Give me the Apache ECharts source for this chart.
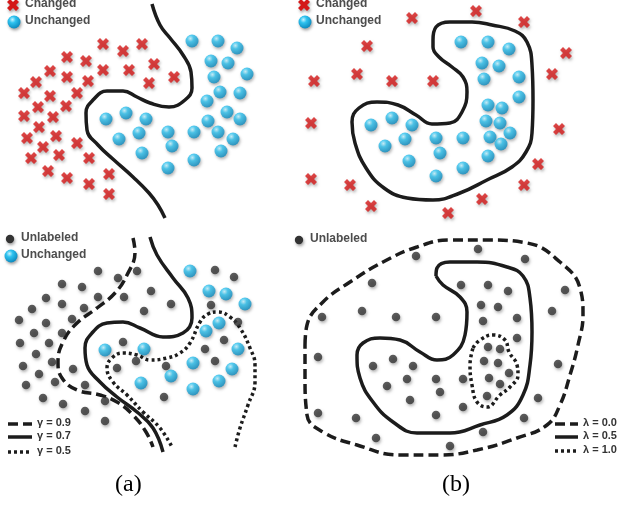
<!DOCTYPE html>
<html><head><meta charset="utf-8">
<script src="https://cdn.jsdelivr.net/npm/echarts@6/dist/echarts.min.js"></script>
<style>html,body{margin:0;padding:0;background:#fff}#c{width:618px;height:505px}</style>
</head><body><div id="c"></div>
<script>
// ---- Panel (a): top-left ----
const aChanged = [[103,44],[123,51],[142,44],[67,57],[86,61],[154,64],[103,70],[129,70],[50,71],[67,77],[174,77],[36,82],[88,81],[149,83],[24,93],[50,96],[77,93],[38,107],[66,106],[24,116],[53,117],[39,127],[27,138],[56,136],[77,143],[43,147],[31,158],[59,155],[89,158],[48,171],[67,178],[89,184],[109,174],[109,194]];
const aUnchanged = [[192,41],[218,41],[237,48],[211,61],[228,63],[247,74],[214,77],[220,92],[240,93],[207,101],[227,112],[240,119],[208,121],[168,132],[194,132],[218,132],[233,139],[172,146],[221,151],[194,160],[168,168],[106,119],[126,113],[146,119],[139,133],[119,139],[142,153]];
const aBoundary = [[152,4],[160,25],[170,38],[183,55],[191,72],[192,88],[185,100],[169,107],[150,103],[137,97],[123,91],[107,91],[94,99],[86,113],[87,130],[98,145],[114,160],[133,177],[149,193],[158,205],[165,218]];

// ---- Panel (b): top-right ----
const bChanged = [[476,11],[412,18],[524,22],[367,46],[566,53],[357,74],[552,74],[314,81],[392,81],[433,81],[311,123],[559,129],[538,164],[311,179],[350,185],[524,185],[482,199],[371,206],[448,213]];
const bUnchanged = [[461,42],[488,42],[509,49],[482,63],[499,66],[484,79],[519,77],[519,97],[488,105],[502,108],[486,121],[500,123],[510,133],[490,137],[501,144],[488,156],[463,168],[436,176],[440,153],[436,138],[463,138],[409,161],[405,139],[385,146],[371,125],[392,118],[412,125]];
const bBoundary = [[433,40],[436,27],[450,22],[472,22],[492,25],[515,31],[527,42],[532,65],[533,100],[532,133],[526,152],[512,167],[487,180],[460,193],[433,200],[407,198],[384,188],[366,168],[355,143],[352,122],[359,108],[377,102],[398,105],[416,115],[432,124],[450,123],[462,112],[467,92],[463,77],[452,67],[439,57],[433,47],[433,40]];

// ---- Panel (c): bottom-left ----
const cUnlabeled = [[98,271],[118,278],[137,271],[62,284],[82,287],[98,297],[124,297],[151,291],[46,298],[62,304],[84,308],[32,309],[144,311],[171,304],[211,305],[215,270],[234,277],[19,320],[46,323],[72,319],[34,333],[62,333],[238,322],[20,343],[49,343],[123,342],[224,340],[36,354],[52,362],[205,349],[23,366],[73,369],[136,361],[117,368],[166,366],[215,361],[39,374],[55,382],[26,385],[85,385],[43,398],[63,404],[85,411],[105,401],[164,397],[105,421]];
const cUnchanged = [[190,271],[209,291],[226,294],[245,304],[219,323],[206,331],[238,349],[105,350],[144,349],[193,363],[232,369],[171,376],[219,381],[141,383],[193,389]];
const cGamma09 = [[133,238],[135,252],[127,275],[115,293],[97,308],[76,324],[63,342],[58,362],[62,378],[77,390],[100,395],[117,402],[133,415],[146,432],[153,447]];
const cGamma07 = [[150,237],[157,255],[173,278],[188,298],[192,318],[183,333],[163,337],[140,328],[123,322],[107,323],[92,333],[85,348],[87,365],[100,382],[117,397],[137,412],[153,428],[163,452]];
const cGamma05 = [[235,447],[240,428],[248,405],[255,382],[255,365],[250,348],[240,328],[230,317],[218,312],[208,314],[200,322],[190,343],[180,353],[167,358],[150,360],[137,355],[123,353],[112,358],[107,368],[113,382],[127,395],[143,412],[160,428],[172,447]];
const cLegendLabels = ['γ = 0.9','γ = 0.7','γ = 0.5'];

// ---- Panel (d): bottom-right ----
const dUnlabeled = [[478,249],[416,256],[525,259],[372,283],[461,285],[488,285],[508,291],[565,290],[481,305],[498,307],[322,317],[362,311],[396,317],[436,317],[483,321],[517,318],[552,311],[517,338],[488,347],[500,349],[318,357],[373,366],[393,359],[413,366],[484,361],[498,363],[509,373],[558,364],[407,379],[436,379],[463,379],[489,378],[500,384],[387,386],[440,392],[410,400],[487,396],[538,398],[463,407],[318,413],[356,418],[436,415],[524,418],[483,432],[376,438],[450,446]];
const dLambda00 = [[305,345],[307,325],[323,302],[350,282],[383,262],[417,247],[450,240],[487,240],[527,243],[560,262],[580,288],[583,315],[578,345],[570,375],[560,405],[547,425],[517,438],[477,450],[440,455],[400,455],[357,445],[323,432],[307,415],[305,375],[305,345]];
const dLambda05 = [[436,276],[437,268],[450,262],[477,262],[507,267],[523,276],[530,298],[532,332],[530,365],[523,395],[507,415],[480,425],[450,433],[417,433],[393,422],[373,402],[360,378],[357,355],[363,343],[380,338],[400,340],[420,352],[437,360],[453,355],[465,335],[467,312],[460,297],[443,285],[436,276]];
const dLambda10 = [[473,348],[480,340],[493,335],[505,340],[509,352],[517,365],[518,375],[510,387],[500,395],[487,407],[477,402],[472,385],[470,365],[473,348]];
const dLegendLabels = ['λ = 0.0','λ = 0.5','λ = 1.0'];

const legendTop = ['Changed','Unchanged'];
const legendBottom = ['Unlabeled','Unchanged'];
const captions = ['(a)','(b)'];

// ---- styles ----
const XP = [[0,3],[3,0],[6,3],[9,0],[12,3],[9,6],[12,9],[9,12],[6,9],[3,12],[0,9],[3,6]];
const X_PATH = 'path://M' + XP.map(p=>p.join(',')).join(' L') + ' Z';
const RED = '#d41818';
const blueFill = {type:'radial',x:0.38,y:0.32,r:0.72,colorStops:[{offset:0,color:'#c6f3ff'},{offset:0.35,color:'#2ec2ef'},{offset:1,color:'#0a86bb'}]};
const shadow = {shadowBlur:3,shadowColor:'rgba(0,0,0,0.35)',shadowOffsetX:1,shadowOffsetY:2};
const INK = '#1c1c1c';
const DASH = [10,5], DOT = [3,3];

function crosses(d){return {type:'scatter',data:d,symbol:X_PATH,symbolSize:12,itemStyle:Object.assign({color:RED},shadow),z:3};}
function blues(d){return {type:'scatter',data:d,symbol:'circle',symbolSize:13,itemStyle:Object.assign({color:blueFill},shadow),z:3};}
function grays(d){return {type:'scatter',data:d,symbol:'circle',symbolSize:8.5,itemStyle:Object.assign({color:'#333'},shadow),z:3};}
function curve(d,t){return {type:'line',data:d,smooth:0.45,symbol:'none',lineStyle:{color:INK,width:3.5,type:t,cap:'butt'},z:2};}

const chart = echarts.init(document.getElementById('c'),null,{renderer:'canvas'});

function xPoly(cx,cy,s){const k=s/12;return XP.map(q=>[cx+(q[0]-6)*k,cy+(q[1]-6)*k]);}
const labelFont = {fontFamily:'Liberation Sans, Arial',fontWeight:'bold',fontSize:12,fill:'#4d4d4d'};
const smallFont = {fontFamily:'Liberation Sans, Arial',fontWeight:'bold',fontSize:11,fill:'#333'};
const g = [];
// top legends
[[13,5],[304,5]].forEach(p=>{
  g.push({type:'polygon',shape:{points:xPoly(p[0],p[1],12)},style:Object.assign({fill:RED},shadow),z:10});
  g.push({type:'text',left:p[0]+12,top:p[1]-7,style:Object.assign({text:legendTop[0]},labelFont),z:10});
  g.push({type:'circle',shape:{cx:p[0]+1,cy:p[1]+17,r:6.5},style:Object.assign({fill:blueFill},shadow),z:10});
  g.push({type:'text',left:p[0]+12,top:p[1]+10,style:Object.assign({text:legendTop[1]},labelFont),z:10});
});
// bottom legends
g.push({type:'circle',shape:{cx:10,cy:239,r:4.2},style:Object.assign({fill:'#333'},shadow),z:10});
g.push({type:'text',left:21,top:232,style:Object.assign({text:legendBottom[0]},labelFont),z:10});
g.push({type:'circle',shape:{cx:11,cy:256,r:6.5},style:Object.assign({fill:blueFill},shadow),z:10});
g.push({type:'text',left:21,top:249,style:Object.assign({text:legendBottom[1]},labelFont),z:10});
g.push({type:'circle',shape:{cx:299,cy:240,r:4.2},style:Object.assign({fill:'#333'},shadow),z:10});
g.push({type:'text',left:310,top:233,style:Object.assign({text:legendBottom[0]},labelFont),z:10});
// line legends
const types=[DASH,'solid',DOT];
[[8,424],[8,437],[8,452]].forEach((p,i)=>{
  g.push({type:'line',shape:{x1:p[0],y1:p[1],x2:p[0]+24,y2:p[1]},style:{stroke:INK,lineWidth:3.5,lineDash:types[i]==='solid'?null:types[i]},z:10});
  g.push({type:'text',left:37,top:p[1]-7,style:Object.assign({text:cLegendLabels[i]},smallFont),z:10});
});
[[555,424],[555,437],[555,451]].forEach((p,i)=>{
  g.push({type:'line',shape:{x1:p[0],y1:p[1],x2:p[0]+23,y2:p[1]},style:{stroke:INK,lineWidth:3.5,lineDash:types[i]==='solid'?null:types[i]},z:10});
  g.push({type:'text',left:583,top:p[1]-7,style:Object.assign({text:dLegendLabels[i]},smallFont),z:10});
});
// captions
g.push({type:'text',left:115,top:473,style:{text:captions[0],font:'24px "Liberation Serif", "Times New Roman", serif',fill:'#000'},z:10});
g.push({type:'text',left:442,top:473,style:{text:captions[1],font:'24px "Liberation Serif", "Times New Roman", serif',fill:'#000'},z:10});

chart.setOption({
  animation:false,
  grid:{left:0,right:0,top:0,bottom:0},
  xAxis:{type:'value',min:0,max:618,show:false},
  yAxis:{type:'value',min:0,max:505,inverse:true,show:false},
  series:[
    curve(aBoundary,'solid'), crosses(aChanged), blues(aUnchanged),
    curve(bBoundary,'solid'), crosses(bChanged), blues(bUnchanged),
    curve(cGamma09,DASH), curve(cGamma07,'solid'), curve(cGamma05,DOT), grays(cUnlabeled), blues(cUnchanged),
    curve(dLambda00,DASH), curve(dLambda05,'solid'), curve(dLambda10,DOT), grays(dUnlabeled)
  ],
  graphic:g
});
</script></body></html>
